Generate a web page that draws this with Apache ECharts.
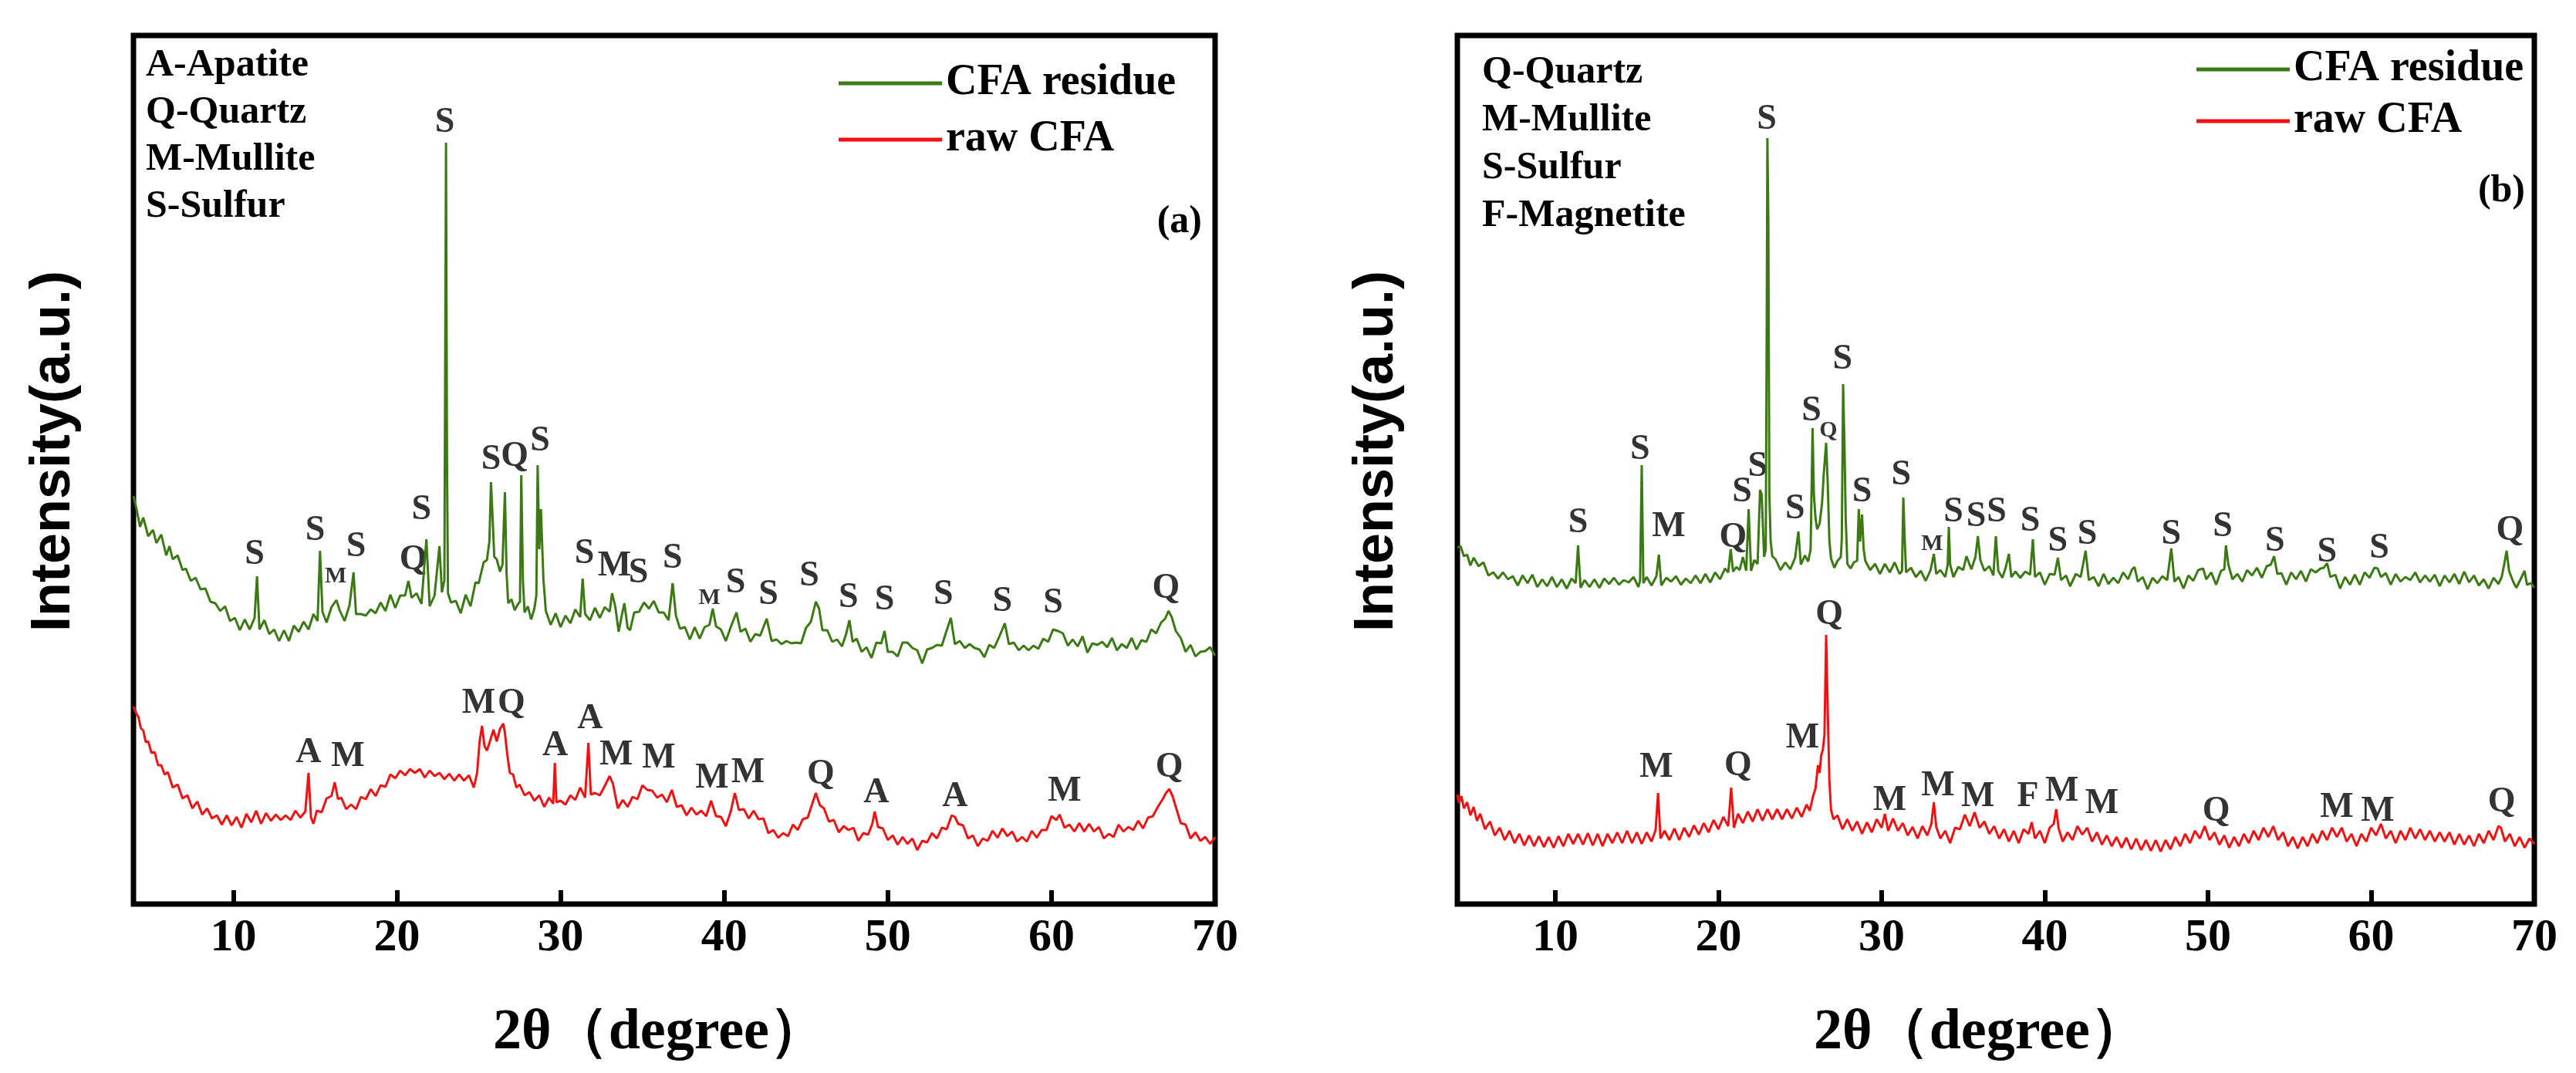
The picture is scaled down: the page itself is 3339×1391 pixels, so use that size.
<!DOCTYPE html>
<html>
<head>
<meta charset="utf-8">
<script src="https://cdn.jsdelivr.net/npm/echarts@6/dist/echarts.min.js"></script>
<style>
  html, body { margin: 0; padding: 0; background: #fff; }
  #chart { width: 3339px; height: 1391px; }
</style>
</head>
<body>
<div id="chart"></div>
<script>
// 2θ positions (degree) and intensity (arbitrary units, 0 = x axis)
const residueA = [[3.9,529],[4.1,511],[4.3,489],[4.5,501],[4.8,477],[5.1,485],[5.3,468],[5.6,479],[5.9,452],[6.1,464],[6.3,447],[6.6,452],[6.9,433],[7.1,435],[7.4,419],[7.7,423],[8.0,408],[8.3,409],[8.6,392],[8.9,390],[9.2,380],[9.5,386],[9.8,367],[10.1,371],[10.4,355],[10.7,369],[11.0,356],[11.3,371],[11.45,425],[11.6,356],[11.9,368],[12.2,350],[12.5,356],[12.8,341],[13.1,355],[13.4,341],[13.7,361],[14.0,353],[14.3,366],[14.6,356],[14.9,376],[15.15,367],[15.3,458],[15.45,379],[15.7,365],[16.0,385],[16.3,394],[16.5,381],[16.8,367],[17.1,387],[17.35,430],[17.5,376],[17.8,376],[18.1,374],[18.4,382],[18.7,377],[19.0,391],[19.3,380],[19.6,401],[19.9,384],[20.2,400],[20.5,400],[20.7,419],[20.9,397],[21.2,403],[21.5,389],[21.8,473],[22.0,386],[22.3,400],[22.6,464],[22.75,404],[22.9,420],[22.95,700],[23.0,987],[23.06,582],[23.12,403],[23.3,391],[23.6,393],[23.9,377],[24.2,401],[24.5,386],[24.8,417],[25.0,416],[25.3,443],[25.5,446],[25.65,470],[25.75,547],[25.85,499],[25.95,450],[26.1,447],[26.3,431],[26.45,440],[26.6,534],[26.7,430],[26.8,390],[27.0,395],[27.2,381],[27.4,389],[27.52,392],[27.6,556],[27.7,420],[27.8,378],[28.0,386],[28.2,369],[28.4,383],[28.52,400],[28.6,569],[28.7,460],[28.8,512],[28.95,422],[29.1,380],[29.4,362],[29.7,377],[30.0,359],[30.3,374],[30.6,364],[30.9,382],[31.2,372],[31.35,422],[31.5,376],[31.8,368],[32.1,384],[32.4,371],[32.7,385],[33.0,379],[33.15,403],[33.35,385],[33.55,353],[33.75,375],[33.9,390],[34.1,358],[34.25,355],[34.5,378],[34.8,379],[35.1,391],[35.4,383],[35.7,393],[36.0,378],[36.3,378],[36.6,368],[36.85,416],[37.05,374],[37.3,357],[37.6,359],[37.9,343],[38.2,359],[38.5,344],[38.8,359],[39.1,362],[39.3,383],[39.5,360],[39.8,356],[40.1,341],[40.4,359],[40.75,378],[41.0,353],[41.3,357],[41.6,340],[41.9,350],[42.2,348],[42.6,370],[42.9,341],[43.2,343],[43.5,337],[43.8,341],[44.1,338],[44.4,339],[44.7,338],[45.0,358],[45.3,366],[45.6,392],[45.8,383],[46.0,355],[46.3,355],[46.6,340],[46.9,343],[47.2,334],[47.45,350],[47.65,368],[47.85,340],[48.1,344],[48.4,327],[48.7,333],[49.0,319],[49.3,339],[49.6,338],[49.8,354],[50.0,327],[50.3,327],[50.6,321],[50.9,339],[51.2,339],[51.5,332],[51.8,329],[52.1,312],[52.4,330],[52.7,332],[53.0,336],[53.3,335],[53.6,355],[53.85,371],[54.1,337],[54.4,341],[54.7,332],[55.0,337],[55.3,332],[55.6,330],[55.9,320],[56.2,336],[56.5,332],[56.8,346],[57.15,364],[57.4,337],[57.7,339],[58.0,329],[58.3,335],[58.6,329],[58.9,335],[59.2,331],[59.5,344],[59.8,340],[60.1,356],[60.4,354],[60.7,351],[61.0,335],[61.3,343],[61.6,334],[61.9,347],[62.2,326],[62.5,338],[62.8,336],[63.1,340],[63.4,333],[63.7,345],[64.0,329],[64.3,337],[64.6,332],[64.9,345],[65.2,330],[65.5,342],[65.8,340],[66.1,356],[66.4,351],[66.7,365],[66.95,370],[67.15,380],[67.35,372],[67.6,354],[67.9,345],[68.2,327],[68.5,336],[68.8,321],[69.1,327],[69.4,328],[69.7,333],[70.0,322]];

const rawA = [[3.9,256],[4.1,246],[4.2,243],[4.35,228],[4.5,225],[4.65,210],[4.8,211],[5.0,196],[5.2,197],[5.4,180],[5.6,180],[5.8,168],[6.0,171],[6.3,151],[6.6,155],[6.9,137],[7.2,141],[7.5,124],[7.8,133],[8.1,116],[8.4,124],[8.7,111],[9.0,115],[9.3,103],[9.6,115],[9.9,102],[10.2,113],[10.5,99],[10.8,117],[11.1,106],[11.4,121],[11.7,104],[12.0,118],[12.3,108],[12.6,116],[12.9,109],[13.2,115],[13.5,109],[13.8,121],[14.1,112],[14.4,120],[14.6,170],[14.75,112],[14.9,104],[15.1,121],[15.4,119],[15.7,137],[16.0,140],[16.2,158],[16.4,136],[16.6,138],[16.9,123],[17.2,129],[17.5,123],[17.8,139],[18.1,136],[18.4,149],[18.7,140],[19.0,154],[19.3,152],[19.6,168],[19.9,163],[20.2,173],[20.5,167],[20.8,175],[21.1,170],[21.4,175],[21.7,164],[22.0,173],[22.3,166],[22.6,170],[22.9,162],[23.2,169],[23.5,160],[23.8,168],[24.1,160],[24.4,167],[24.7,151],[24.9,170],[25.05,210],[25.2,231],[25.35,205],[25.5,199],[25.7,212],[25.9,226],[26.1,211],[26.3,227],[26.5,234],[26.6,222],[26.75,193],[26.9,170],[27.1,168],[27.3,151],[27.5,155],[27.8,141],[28.1,145],[28.4,134],[28.7,141],[29.0,126],[29.3,138],[29.55,130],[29.65,183],[29.75,132],[30.0,134],[30.3,129],[30.6,141],[30.9,135],[31.2,151],[31.5,138],[31.7,209],[31.85,142],[32.1,144],[32.4,141],[32.7,153],[33.0,166],[33.2,156],[33.5,124],[33.8,135],[34.1,126],[34.4,139],[34.7,136],[35.0,154],[35.3,148],[35.6,147],[35.9,138],[36.2,142],[36.5,132],[36.8,148],[37.1,126],[37.4,128],[37.7,115],[38.0,125],[38.3,116],[38.6,121],[38.9,114],[39.2,134],[39.5,114],[39.8,113],[40.1,101],[40.4,120],[40.65,144],[40.9,122],[41.2,123],[41.5,111],[41.8,121],[42.1,110],[42.4,111],[42.7,92],[43.0,96],[43.3,86],[43.6,92],[43.9,88],[44.2,103],[44.5,96],[44.8,110],[45.1,112],[45.35,128],[45.6,144],[45.85,128],[46.1,124],[46.4,107],[46.7,109],[47.0,93],[47.3,101],[47.6,96],[47.9,99],[48.2,82],[48.5,92],[48.8,90],[49.05,104],[49.2,120],[49.4,100],[49.7,98],[50.0,83],[50.3,89],[50.6,77],[50.9,87],[51.2,78],[51.5,85],[51.8,70],[52.1,82],[52.4,80],[52.7,92],[53.0,85],[53.3,99],[53.6,97],[53.9,115],[54.1,113],[54.3,104],[54.6,102],[54.9,85],[55.2,89],[55.5,75],[55.8,85],[56.1,82],[56.4,95],[56.7,86],[57.0,98],[57.3,88],[57.6,94],[57.9,81],[58.2,87],[58.5,81],[58.8,95],[59.1,86],[59.4,96],[59.7,96],[60.0,114],[60.3,109],[60.5,116],[60.8,99],[61.1,103],[61.4,94],[61.7,105],[62.0,94],[62.3,104],[62.6,94],[62.9,100],[63.2,85],[63.5,91],[63.8,87],[64.1,103],[64.4,94],[64.7,100],[65.0,96],[65.3,108],[65.6,98],[65.9,112],[66.2,114],[66.5,126],[66.8,136],[67.0,144],[67.2,149],[67.4,140],[67.6,126],[67.9,105],[68.2,103],[68.5,85],[68.8,93],[69.1,82],[69.4,87],[69.7,78],[70.0,87]];

const residueB = [[4.0,462],[4.2,464],[4.4,451],[4.6,453],[4.8,439],[5.0,449],[5.3,438],[5.6,443],[5.9,426],[6.2,430],[6.5,422],[6.8,430],[7.1,421],[7.4,425],[7.7,413],[8.0,426],[8.3,416],[8.6,427],[8.9,411],[9.2,421],[9.5,412],[9.8,424],[10.1,411],[10.4,421],[10.7,409],[11.0,422],[11.25,416],[11.4,465],[11.55,410],[11.8,420],[12.1,411],[12.4,421],[12.7,410],[13.0,422],[13.3,415],[13.6,423],[13.9,414],[14.2,420],[14.5,417],[14.8,424],[15.1,411],[15.2,420],[15.3,569],[15.4,416],[15.6,424],[15.9,413],[16.2,425],[16.35,453],[16.5,413],[16.8,423],[17.1,418],[17.4,425],[17.7,414],[18.0,422],[18.3,416],[18.6,426],[18.9,416],[19.2,428],[19.5,417],[19.8,430],[20.1,421],[20.4,435],[20.6,430],[20.75,460],[20.9,431],[21.1,437],[21.3,433],[21.5,450],[21.7,432],[21.85,512],[22.0,432],[22.2,446],[22.4,441],[22.55,537],[22.65,531],[22.8,450],[22.9,460],[22.95,700],[23.0,993],[23.06,880],[23.12,531],[23.2,470],[23.3,451],[23.5,447],[23.8,433],[24.1,443],[24.4,434],[24.7,449],[24.9,483],[25.05,440],[25.3,452],[25.5,444],[25.65,460],[25.77,617],[25.85,531],[25.95,500],[26.05,486],[26.2,493],[26.35,520],[26.45,556],[26.6,598],[26.7,544],[26.8,470],[26.9,448],[27.1,436],[27.3,445],[27.5,450],[27.56,473],[27.64,674],[27.72,600],[27.8,500],[27.9,441],[28.1,435],[28.3,443],[28.5,445],[28.6,512],[28.68,470],[28.8,505],[28.9,460],[29.0,445],[29.3,433],[29.6,441],[29.9,428],[30.2,441],[30.5,430],[30.8,443],[31.1,428],[31.25,432],[31.33,527],[31.42,470],[31.5,430],[31.8,436],[32.1,424],[32.4,432],[32.7,419],[33.0,433],[33.2,454],[33.35,428],[33.6,433],[33.9,424],[34.05,440],[34.12,489],[34.2,440],[34.4,424],[34.7,437],[35.0,433],[35.2,451],[35.5,434],[35.75,450],[35.9,477],[36.05,446],[36.3,432],[36.6,438],[36.85,426],[37.0,477],[37.15,432],[37.4,423],[37.6,436],[37.8,454],[37.95,424],[38.2,431],[38.5,423],[38.8,431],[39.1,427],[39.27,473],[39.4,424],[39.7,430],[40.0,414],[40.3,428],[40.6,427],[40.8,449],[41.0,420],[41.3,426],[41.55,412],[41.9,428],[42.2,424],[42.5,458],[42.7,420],[43.0,424],[43.3,412],[43.6,428],[43.9,415],[44.2,423],[44.5,416],[44.8,430],[45.1,421],[45.35,434],[45.5,437],[45.7,418],[46.0,424],[46.3,408],[46.6,423],[46.9,416],[47.2,425],[47.5,420],[47.75,461],[47.95,418],[48.2,424],[48.5,409],[48.8,426],[49.1,419],[49.4,433],[49.7,435],[49.9,421],[50.2,430],[50.5,414],[50.8,432],[51.0,434],[51.1,465],[51.25,440],[51.5,421],[51.8,428],[52.1,418],[52.4,433],[52.7,426],[53.0,436],[53.3,423],[53.6,438],[53.85,440],[54.05,451],[54.25,428],[54.5,429],[54.8,414],[55.1,430],[55.4,421],[55.7,432],[56.0,418],[56.3,434],[56.6,430],[56.9,435],[57.1,436],[57.3,442],[57.5,424],[57.8,427],[58.1,409],[58.4,424],[58.7,414],[59.0,427],[59.3,414],[59.6,430],[59.9,423],[60.2,436],[60.4,435],[60.6,424],[60.9,429],[61.2,414],[61.5,428],[61.8,418],[62.1,424],[62.4,420],[62.7,430],[63.0,417],[63.3,426],[63.6,418],[63.9,427],[64.2,412],[64.5,426],[64.8,417],[65.1,428],[65.4,415],[65.7,431],[66.0,417],[66.3,426],[66.6,413],[66.9,421],[67.2,409],[67.5,423],[67.8,415],[68.0,424],[68.15,440],[68.3,458],[68.45,432],[68.7,418],[68.9,410],[69.2,423],[69.4,432],[69.55,414],[69.8,416],[70.0,410]];

const rawB = [[4.0,142],[4.1,131],[4.25,140],[4.4,124],[4.6,132],[4.8,115],[5.0,126],[5.2,108],[5.4,117],[5.7,97],[6.0,107],[6.3,89],[6.6,99],[6.9,83],[7.2,95],[7.5,79],[7.8,91],[8.1,76],[8.4,89],[8.7,75],[9.0,88],[9.3,74],[9.6,87],[9.9,73],[10.2,88],[10.5,75],[10.8,91],[11.1,78],[11.4,91],[11.7,77],[12.0,92],[12.3,76],[12.6,91],[12.9,75],[13.2,91],[13.5,79],[13.8,93],[14.1,79],[14.4,95],[14.7,79],[15.0,93],[15.3,78],[15.6,93],[15.9,81],[16.15,96],[16.3,144],[16.45,85],[16.7,95],[17.0,83],[17.3,98],[17.6,83],[17.9,99],[18.2,87],[18.5,102],[18.8,90],[19.1,105],[19.4,93],[19.7,109],[20.0,97],[20.3,113],[20.6,101],[20.78,151],[20.95,99],[21.2,117],[21.5,105],[21.8,120],[22.1,107],[22.4,123],[22.7,108],[23.0,123],[23.3,110],[23.6,123],[23.9,110],[24.2,123],[24.5,111],[24.8,125],[25.1,113],[25.4,129],[25.6,121],[25.8,140],[25.95,150],[26.1,180],[26.2,170],[26.3,193],[26.4,200],[26.5,220],[26.6,349],[26.7,250],[26.8,160],[26.9,122],[27.05,110],[27.3,115],[27.6,97],[27.9,110],[28.2,95],[28.5,107],[28.8,91],[29.1,106],[29.4,93],[29.7,110],[30.0,99],[30.2,117],[30.4,95],[30.7,111],[31.0,95],[31.3,105],[31.6,89],[31.9,100],[32.2,85],[32.5,101],[32.8,89],[33.05,104],[33.2,132],[33.35,100],[33.6,85],[33.9,95],[34.2,79],[34.5,99],[34.8,97],[35.1,116],[35.4,101],[35.7,119],[36.0,99],[36.3,107],[36.6,91],[36.9,101],[37.2,85],[37.5,97],[37.8,81],[38.1,95],[38.4,79],[38.7,97],[39.0,91],[39.2,106],[39.4,85],[39.7,95],[40.0,79],[40.3,99],[40.55,104],[40.7,123],[40.85,98],[41.1,81],[41.4,93],[41.7,83],[42.0,101],[42.3,90],[42.6,99],[42.9,81],[43.2,93],[43.5,77],[43.8,89],[44.1,75],[44.4,87],[44.7,73],[45.0,86],[45.3,71],[45.6,85],[45.9,70],[46.2,83],[46.5,69],[46.8,83],[47.1,68],[47.4,83],[47.7,71],[48.0,87],[48.3,75],[48.6,91],[48.9,79],[49.2,95],[49.5,85],[49.8,101],[50.1,83],[50.4,93],[50.7,77],[51.0,89],[51.3,73],[51.6,87],[51.9,75],[52.2,91],[52.5,79],[52.8,95],[53.1,83],[53.4,99],[53.7,87],[54.0,101],[54.3,83],[54.6,93],[54.9,75],[55.2,87],[55.5,72],[55.8,87],[56.1,75],[56.4,91],[56.7,79],[57.0,95],[57.3,83],[57.6,99],[57.9,87],[58.2,99],[58.5,81],[58.8,91],[59.1,75],[59.4,91],[59.7,81],[60.0,99],[60.3,89],[60.6,104],[60.9,85],[61.2,95],[61.5,79],[61.8,95],[62.1,83],[62.4,99],[62.7,85],[63.0,97],[63.3,83],[63.6,95],[63.9,81],[64.2,93],[64.5,81],[64.8,93],[65.1,77],[65.4,91],[65.7,77],[66.0,89],[66.3,75],[66.6,91],[66.9,79],[67.2,95],[67.5,83],[67.8,101],[67.95,99],[68.2,81],[68.5,91],[68.8,75],[69.1,87],[69.4,73],[69.7,85],[70.0,78]];

// phase letters: [2θ, height, letter]
const peaksResidueA = [[11.3,453,'S'],[15.0,484,'S'],[17.5,463,'S'],[21.0,446,'Q'],[21.5,511,'S'],[22.93,1013,'S'],[25.75,576,'S'],[27.2,580,'Q'],[28.75,600,'S'],[31.46,454,'S'],[33.3,438,'M'],[34.76,429,'S'],[36.84,448,'S'],[40.7,416,'S'],[42.7,401,'S'],[45.2,425,'S'],[47.6,397,'S'],[49.8,394,'S'],[53.4,401,'S'],[57.0,392,'S'],[60.1,390,'S'],[67.0,409,'Q']];
const peaksRawA = [[14.6,196,'A'],[17.0,191,'M'],[25.0,260,'M'],[27.0,260,'Q'],[29.67,205,'A'],[31.8,240,'A'],[33.4,193,'M'],[36.0,189,'M'],[39.26,163,'M'],[41.45,170,'M'],[45.9,168,'Q'],[49.3,144,'A'],[54.1,139,'A'],[60.8,146,'M'],[67.2,177,'Q']];
const smallPeaksA = [[16.26,425,'M'],[39.1,397,'M']];
const peaksResidueB = [[11.4,494,'S'],[15.2,589,'S'],[16.95,489,'M'],[20.9,475,'Q'],[21.45,534,'S'],[22.4,567,'S'],[22.96,1017,'S'],[24.7,512,'S'],[25.7,639,'S'],[27.6,706,'S'],[28.8,534,'S'],[31.2,556,'S'],[34.4,508,'S'],[35.8,502,'S'],[37.05,508,'S'],[39.1,496,'S'],[40.8,470,'S'],[42.6,479,'S'],[47.75,479,'S'],[50.9,489,'S'],[54.1,470,'S'],[57.3,456,'S'],[60.5,461,'S'],[68.5,484,'Q']];
const peaksRawB = [[16.2,177,'M'],[21.2,179,'Q'],[25.15,215,'M'],[26.8,375,'Q'],[30.5,134,'M'],[33.45,153,'M'],[35.9,139,'M'],[38.96,139,'F'],[41.05,146,'M'],[43.5,130,'M'],[50.5,120,'Q'],[57.9,125,'M'],[60.4,120,'M'],[68.0,132,'Q']];
const smallPeaksB = [[26.74,614,'Q'],[33.1,467,'M']];

const phasesA = ['A-Apatite', 'Q-Quartz', 'M-Mullite', 'S-Sulfur'];
const phasesB = ['Q-Quartz', 'M-Mullite', 'S-Sulfur', 'F-Magnetite'];
const xTicks = [10, 20, 30, 40, 50, 60, 70];
const seriesNames = ['CFA residue', 'raw CFA'];

const GREEN = '#3b7a12';
const RED = '#f01212';
const SERIF = "'Liberation Serif', 'Times New Roman', serif";

const chart = echarts.init(document.getElementById('chart'));

function xAxisFor(grid, min) {
    return {
        gridIndex: grid, type: 'value', min: min, max: 70,
        axisLine: { show: false },
        splitLine: { show: false },
        axisTick: { show: true, inside: true, length: 18, customValues: xTicks, lineStyle: { color: '#000', width: 6 } },
        axisLabel: { customValues: xTicks, margin: 14, color: '#000', fontSize: 60, fontWeight: 'bold', fontFamily: SERIF }
    };
}
function yAxisFor(grid) {
    return { gridIndex: grid, type: 'value', min: 0, max: 1126, show: false };
}
function curve(name, data, color, idx) {
    return {
        name: name, type: 'line', xAxisIndex: idx, yAxisIndex: idx, data: data,
        showSymbol: false, symbol: 'none', color: color,
        lineStyle: { color: color, width: 3 }, silent: true
    };
}
function letters(list, idx, size) {
    return {
        type: 'scatter', xAxisIndex: idx, yAxisIndex: idx, symbolSize: 1, silent: true,
        itemStyle: { color: 'transparent' },
        data: list.map(p => ({ value: [p[0], p[1]], name: p[2] })),
        label: { show: true, position: 'inside', formatter: '{b}', color: '#000', fontSize: size, fontWeight: 'bold', fontFamily: SERIF }
    };
}
function phaseText(list, x, y0, gap) {
    return list.map((t, i) => ({
        type: 'text', x: x, y: y0 + i * gap,
        style: { text: t, fill: '#000', font: 'bold 50px ' + SERIF, align: 'left', verticalAlign: 'middle' }
    }));
}
function legendFor(left, top, width, gap) {
    return {
        left: left, top: top, orient: 'vertical', icon: 'rect', selectedMode: false,
        itemWidth: width, itemHeight: 5, itemGap: gap, data: seriesNames,
        textStyle: { color: '#000', fontSize: 56, lineHeight: 56, fontWeight: 'bold', fontFamily: SERIF }
    };
}

chart.setOption({
    animation: false,
    backgroundColor: '#fff',
    grid: [
        { left: 173, top: 46, width: 1402, height: 1126, show: true, borderColor: '#000', borderWidth: 7 },
        { left: 1889, top: 46, width: 1396, height: 1126, show: true, borderColor: '#000', borderWidth: 7 }
    ],
    xAxis: [xAxisFor(0, 3.9), xAxisFor(1, 4)],
    yAxis: [yAxisFor(0), yAxisFor(1)],
    legend: [legendFor(1082, 75, 134, 17), legendFor(2842, 57, 121, 11)],
    series: [
        curve(seriesNames[0], residueA, GREEN, 0),
        curve(seriesNames[1], rawA, RED, 0),
        curve(seriesNames[0], residueB, GREEN, 1),
        curve(seriesNames[1], rawB, RED, 1),
        letters(peaksResidueA.concat(peaksRawA), 0, 46),
        letters(smallPeaksA, 0, 30),
        letters(peaksResidueB.concat(peaksRawB), 1, 46),
        letters(smallPeaksB, 1, 30)
    ],
    graphic: [
        ...phaseText(phasesA, 189, 85, 61),
        ...phaseText(phasesB, 1921, 94, 62),
        { type: 'text', x: 1558, y: 288, style: { text: '(a)', fill: '#000', font: 'bold 50px ' + SERIF, align: 'right', verticalAlign: 'middle' } },
        { type: 'text', x: 3273, y: 248, style: { text: '(b)', fill: '#000', font: 'bold 50px ' + SERIF, align: 'right', verticalAlign: 'middle' } },
        { type: 'text', x: 70, y: 585, rotation: Math.PI / 2, style: { text: 'Intensity(a.u.)', fill: '#000', font: "bold 72px 'Liberation Sans', Arial, sans-serif", align: 'center', verticalAlign: 'middle' } },
        { type: 'text', x: 1785, y: 585, rotation: Math.PI / 2, style: { text: 'Intensity(a.u.)', fill: '#000', font: "bold 72px 'Liberation Sans', Arial, sans-serif", align: 'center', verticalAlign: 'middle' } },
        { type: 'text', x: 855, y: 1340, style: { text: '2θ（degree）', fill: '#000', font: 'bold 74px ' + SERIF, align: 'center', verticalAlign: 'middle' } },
        { type: 'text', x: 2567, y: 1340, style: { text: '2θ（degree）', fill: '#000', font: 'bold 74px ' + SERIF, align: 'center', verticalAlign: 'middle' } }
    ]
});
</script>
</body>
</html>
